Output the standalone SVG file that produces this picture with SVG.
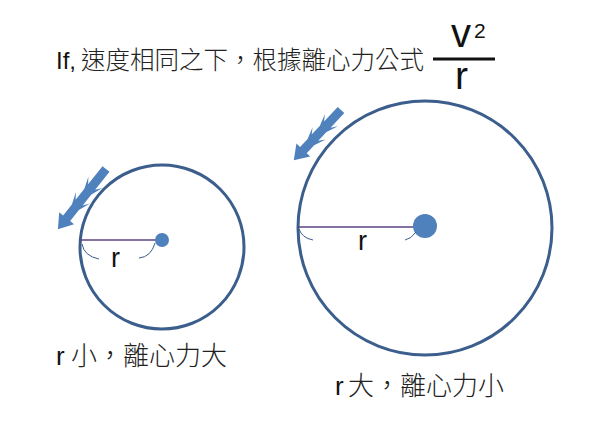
<svg xmlns="http://www.w3.org/2000/svg" width="590" height="423" viewBox="0 0 590 423">
<style>
.t{font-family:"Liberation Sans","Noto Sans CJK TC",sans-serif;fill:#111}
.cjk{font-family:"Noto Sans CJK TC",sans-serif;font-weight:300;fill:#222}
.orbit{fill:none;stroke:#3B5E8C;stroke-width:3}
.dot{fill:#4F81BD}
.rad{stroke:#5B4480;stroke-width:1.3}
.arc{fill:none;stroke:#3B5E8C;stroke-width:1}
.arrow{fill:#4F81BD}
</style>
<rect width="590" height="423" fill="#fff"/>
<g id="title">
<text class="t" x="56" y="69" font-size="24">If,</text>
<text class="cjk" x="81" y="69" font-size="24.5">速度相同之下，根據離心力公式</text>
</g>
<g id="formula">
<text class="t" x="451" y="47" font-size="40">v</text>
<text class="t" x="474" y="38" font-size="21">2</text>
<line x1="433" y1="59" x2="495" y2="59" stroke="#111" stroke-width="3"/>
<text class="t" x="455" y="89" font-size="39">r</text>
</g>
<g id="small-circle">
<circle class="orbit" cx="162" cy="247" r="82"/>
<line class="rad" x1="80" y1="240" x2="158" y2="240"/>
<circle class="dot" cx="162" cy="240" r="7"/>
<path class="arc" d="M82,244 Q84,256 99,259"/>
<path class="arc" d="M139,258 Q151,257 155,243"/>
<text class="t" x="111" y="267" font-size="27">r</text>
</g>
<g id="big-circle">
<circle class="orbit" cx="425" cy="228" r="127"/>
<line class="rad" x1="298" y1="227" x2="418" y2="227"/>
<circle class="dot" cx="425" cy="226" r="12"/>
<path class="arc" d="M299,229 Q302,238 313,240"/>
<path class="arc" d="M405,240 Q411,239 416,232"/>
<text class="t" x="358" y="250" font-size="27">r</text>
</g>
<g id="connectors">
<path class="arrow" transform="translate(106,169) rotate(128.66)" d="M0,-4.5 L23,-4.5 L17,-9 L29,-4.5 L43,-4.5 L37,-9 L49,-4.5 L63,-4.5 L63,-9.5 L77,0 L63,9.5 L63,4.5 L49,4.5 L37,9 L43,4.5 L29,4.5 L17,9 L23,4.5 L0,4.5 Z"/>
<path class="arrow" transform="translate(341,110) rotate(133.2)" d="M0,-4.5 L20,-4.5 L14,-9 L26,-4.5 L38,-4.5 L32,-9 L44,-4.5 L55,-4.5 L55,-9.5 L69,0 L55,9.5 L55,4.5 L44,4.5 L32,9 L38,4.5 L26,4.5 L14,9 L20,4.5 L0,4.5 Z"/>
</g>
<g id="label-small">
<text class="t" x="56" y="365" font-size="26">r</text>
<text class="cjk" x="71" y="365" font-size="26">小，離心力大</text>
</g>
<g id="label-big">
<text class="t" x="335" y="395" font-size="26">r</text>
<text class="cjk" x="348" y="395" font-size="26">大，離心力小</text>
</g>
</svg>
